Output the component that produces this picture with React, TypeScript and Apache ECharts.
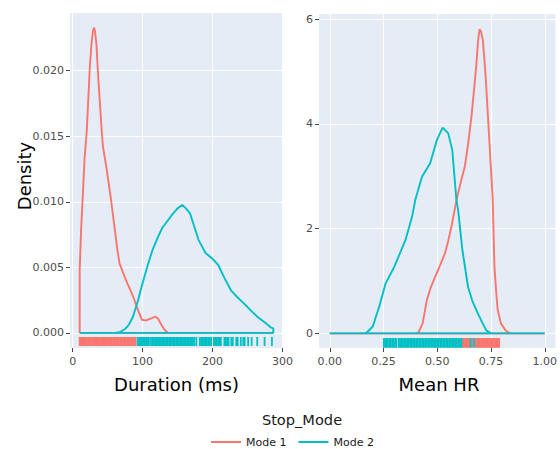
import React, { useEffect, useRef } from 'react';
import * as echarts from 'echarts';

const FONT = '"DejaVu Sans", Verdana, sans-serif';

const seriesNames = ['Mode 1', 'Mode 2'];
const colors = ['#F8766D', '#00BFC4'];

const durationTicks = [0, 100, 200, 300];
const durationDensityTicks = [0, 0.005, 0.01, 0.015, 0.02];
const hrTicks = [0, 0.25, 0.5, 0.75, 1];
const hrDensityTicks = [0, 2, 4, 6];

// Density curves (closed outlines as drawn by ggplot/plotly)
const durationMode1: number[][] = [
  [10, 0], [10, 0.0048], [12, 0.0078], [15, 0.0111], [17, 0.0133], [20, 0.0153], [22.5, 0.018],
  [24.5, 0.0203], [27, 0.0221], [29, 0.023], [30.6, 0.0233], [32, 0.023], [34, 0.022], [36, 0.02],
  [38.6, 0.0178], [41, 0.0158], [43.3, 0.0142], [48, 0.0127], [51, 0.0116], [55, 0.0101],
  [60, 0.008], [64, 0.0063], [67, 0.0053], [72, 0.0046], [78, 0.0038], [83, 0.0032], [87, 0.0027],
  [93, 0.0018], [99, 0.001], [105, 0.00095], [112, 0.0011], [118, 0.00125], [122, 0.0011],
  [127, 0.0006], [132, 0.0002], [136, 0.00002], [150, 0], [287, 0], [10, 0],
];
const durationMode2: number[][] = [
  [10, 0], [60, 0], [67, 0.00005], [75, 0.0003], [80, 0.0006], [86, 0.0012], [93, 0.0024],
  [100, 0.0038], [107, 0.0051], [114, 0.0063], [121, 0.0072], [128, 0.008], [135, 0.0085],
  [142, 0.009], [150, 0.0095], [156.6, 0.00975], [162, 0.0095], [168, 0.0091], [174, 0.0081],
  [180, 0.0071], [185, 0.0066], [190, 0.0061], [199, 0.0057], [208, 0.0052], [217, 0.0042],
  [227, 0.0032], [236, 0.0027], [246, 0.0022], [255, 0.0017], [265, 0.0012], [275, 0.0008],
  [284, 0.0004], [287, 0.00035], [287, 0], [10, 0],
];
const hrMode1: number[][] = [
  [0, 0], [0.4, 0], [0.413, 0.02], [0.432, 0.19], [0.452, 0.64], [0.47, 0.88], [0.49, 1.08],
  [0.513, 1.3], [0.536, 1.53], [0.552, 1.78], [0.566, 2.04], [0.59, 2.55], [0.61, 2.9],
  [0.628, 3.18], [0.643, 3.6], [0.658, 4.1], [0.67, 4.6], [0.681, 5.09], [0.69, 5.6],
  [0.697, 5.81], [0.704, 5.76], [0.712, 5.6], [0.72, 5.2], [0.727, 4.78], [0.743, 3.63],
  [0.758, 2.55], [0.766, 1.27], [0.774, 0.8], [0.781, 0.45], [0.796, 0.19], [0.819, 0.05],
  [0.84, 0], [1, 0], [0, 0],
];
const hrMode2: number[][] = [
  [0, 0], [0.165, 0], [0.176, 0.03], [0.2, 0.13], [0.23, 0.51], [0.26, 0.955], [0.3, 1.27],
  [0.352, 1.78], [0.383, 2.23], [0.398, 2.55], [0.429, 2.99], [0.467, 3.25], [0.498, 3.69],
  [0.525, 3.93], [0.551, 3.82], [0.57, 3.5], [0.589, 2.55], [0.597, 2.36], [0.617, 1.59],
  [0.643, 0.89], [0.665, 0.6], [0.689, 0.38], [0.71, 0.2], [0.727, 0.06], [0.75, 0], [1, 0], [0, 0],
];

// Rug observations
const durationRug1 = [
  10, 11, 13, 14, 16, 17, 19, 20, 22, 23, 25, 26, 28, 29, 31, 33, 34, 36, 37, 39, 41, 42, 44,
  46, 47, 49, 51, 52, 54, 56, 58, 60, 62, 64, 66, 68, 70, 72, 74, 76, 78, 80, 82, 84, 86, 88, 90,
];
const durationRug2 = [
  93, 95, 97, 99, 101, 103, 105, 107, 109, 112, 114, 116, 118, 120, 122, 124, 126, 128, 130, 132,
  134, 136, 138, 140, 142, 144, 146, 148, 150, 152, 154, 156, 158, 160, 162, 164, 166, 168, 170,
  172, 174, 177, 182, 184, 186, 188, 190, 192, 194, 196, 198, 202, 204, 206, 208, 210, 212, 217,
  219, 221, 223, 227, 229, 234, 236, 240.5, 244, 246, 251, 256, 264, 274.5, 285,
];
const hrRug1 = [
  0.618, 0.624, 0.63, 0.636, 0.642, 0.648, 0.662, 0.68, 0.686, 0.692, 0.698, 0.704, 0.71, 0.716,
  0.722, 0.728, 0.734, 0.74, 0.746, 0.752, 0.758, 0.764, 0.77, 0.776, 0.782, 0.788,
];
const hrRug2 = [
  0.252, 0.258, 0.264, 0.27, 0.277, 0.284, 0.291, 0.298, 0.305, 0.31, 0.321, 0.327, 0.333,
  0.34, 0.347, 0.354, 0.36, 0.367, 0.374, 0.381, 0.388, 0.395, 0.402, 0.409, 0.416, 0.423,
  0.43, 0.437, 0.444, 0.451, 0.458, 0.465, 0.472, 0.479, 0.486, 0.493, 0.5, 0.507, 0.514,
  0.521, 0.528, 0.535, 0.542, 0.549, 0.556, 0.563, 0.57, 0.577, 0.584, 0.591, 0.598, 0.605,
  0.612, 0.655, 0.671,
];

const tickColor = '#4D4D4D';

function makeX(gridIndex: number, min: number, max: number, ticks: number[], fmt: (v: number) => string) {
  return {
    type: 'value',
    gridIndex,
    min,
    max,
    axisLine: { show: false, onZero: false },
    axisTick: { show: true, length: 4, lineStyle: { color: '#444', width: 1 }, customValues: ticks },
    axisLabel: {
      customValues: ticks,
      fontSize: 11,
      color: tickColor,
      fontFamily: FONT,
      margin: 8,
      formatter: (v: number) => fmt(v),
    },
    splitLine: { show: true, lineStyle: { color: '#FFFFFF', width: 1 } },
  };
}

function makeY(gridIndex: number, min: number, max: number, ticks: number[], fmt: (v: number) => string) {
  return {
    type: 'value',
    gridIndex,
    min,
    max,
    axisLine: { show: false, onZero: false },
    axisTick: { show: true, length: 4, lineStyle: { color: '#444', width: 1 }, customValues: ticks },
    axisLabel: {
      customValues: ticks,
      fontSize: 11,
      color: tickColor,
      fontFamily: FONT,
      margin: 6,
      formatter: (v: number) => fmt(v),
    },
    splitLine: { show: true, lineStyle: { color: '#FFFFFF', width: 1 } },
  };
}

function rugSeries(name: string, data: number[], axis: number, color: string, y0: number, y1: number, width: number) {
  return {
    type: 'custom',
    name,
    xAxisIndex: axis,
    yAxisIndex: axis,
    dimensions: ['x'],
    encode: { x: 0 },
    data: data.map((v) => [v]),
    silent: true,
    z: 3,
    renderItem: (_params: any, api: any) => {
      const x = api.value(0);
      const p0 = api.coord([x, y0]);
      const p1 = api.coord([x, y1]);
      return {
        type: 'line',
        shape: { x1: p0[0], y1: p0[1], x2: p1[0], y2: p1[1] },
        style: { stroke: color, lineWidth: width },
      };
    },
  };
}

function lineSeries(name: string, data: number[][], axis: number, color: string) {
  return {
    type: 'line',
    name,
    xAxisIndex: axis,
    yAxisIndex: axis,
    data,
    symbol: 'none',
    showSymbol: false,
    lineStyle: { color, width: 1.9 },
    itemStyle: { color },
    z: 4,
  };
}

export default function App() {
  const ref = useRef<HTMLDivElement>(null);
  useEffect(() => {
    document.body.style.margin = '0';
    if (!ref.current) return;
    const chart = echarts.init(ref.current, null, { renderer: 'svg' });
    chart.setOption({
      animation: false,
      backgroundColor: '#FFFFFF',
      textStyle: { fontFamily: FONT },
      grid: [
        { left: 70, top: 13, width: 213, height: 335, show: true, backgroundColor: '#E5ECF6', borderWidth: 0 },
        { left: 319, top: 14, width: 240, height: 334, show: true, backgroundColor: '#E5ECF6', borderWidth: 0 },
      ],
      xAxis: [
        makeX(0, -3.85, 300.85, durationTicks, (v) => String(v)),
        makeX(1, -0.05, 1.05, hrTicks, (v) => v.toFixed(2)),
      ],
      yAxis: [
        makeY(0, -0.00115, 0.0244, durationDensityTicks, (v) => v.toFixed(3)),
        makeY(1, -0.28, 6.1, hrDensityTicks, (v) => String(Math.round(v))),
      ],
      legend: {
        data: seriesNames,
        left: 211,
        top: 432,
        orient: 'horizontal',
        icon: 'rect',
        itemWidth: 30,
        itemHeight: 2,
        itemGap: 12,
        padding: [4, 5, 4, 0],
        textStyle: { fontSize: 11, color: '#1A1A1A', fontFamily: FONT, lineHeight: 12 },
      },
      graphic: [
        {
          type: 'text',
          x: 24,
          y: 176,
          rotation: Math.PI / 2,
          style: { text: 'Density', fontSize: 18, fontFamily: FONT, fill: '#000', textAlign: 'center', textVerticalAlign: 'middle' },
        },
        {
          type: 'text',
          x: 176.5,
          y: 384,
          style: { text: 'Duration (ms)', fontSize: 18, fontFamily: FONT, fill: '#000', textAlign: 'center', textVerticalAlign: 'middle' },
        },
        {
          type: 'text',
          x: 439,
          y: 384,
          style: { text: 'Mean HR', fontSize: 18, fontFamily: FONT, fill: '#000', textAlign: 'center', textVerticalAlign: 'middle' },
        },
        {
          type: 'text',
          x: 302,
          y: 419,
          style: { text: 'Stop_Mode', fontSize: 14.6, fontFamily: FONT, fill: '#1A1A1A', textAlign: 'center', textVerticalAlign: 'middle' },
        },
      ],
      series: [
        rugSeries('rug-d1', durationRug1, 0, colors[0], -0.00031, -0.001, 1.8),
        rugSeries('rug-d2', durationRug2, 0, colors[1], -0.00031, -0.001, 1.8),
        rugSeries('rug-h1', hrRug1, 1, colors[0], -0.09, -0.275, 1.8),
        rugSeries('rug-h2', hrRug2, 1, colors[1], -0.09, -0.275, 1.8),
        lineSeries(seriesNames[0], durationMode1, 0, colors[0]),
        lineSeries(seriesNames[1], durationMode2, 0, colors[1]),
        lineSeries(seriesNames[0], hrMode1, 1, colors[0]),
        lineSeries(seriesNames[1], hrMode2, 1, colors[1]),
      ],
    });
    return () => chart.dispose();
  }, []);
  return <div ref={ref} style={{ width: 560, height: 449 }} />;
}
